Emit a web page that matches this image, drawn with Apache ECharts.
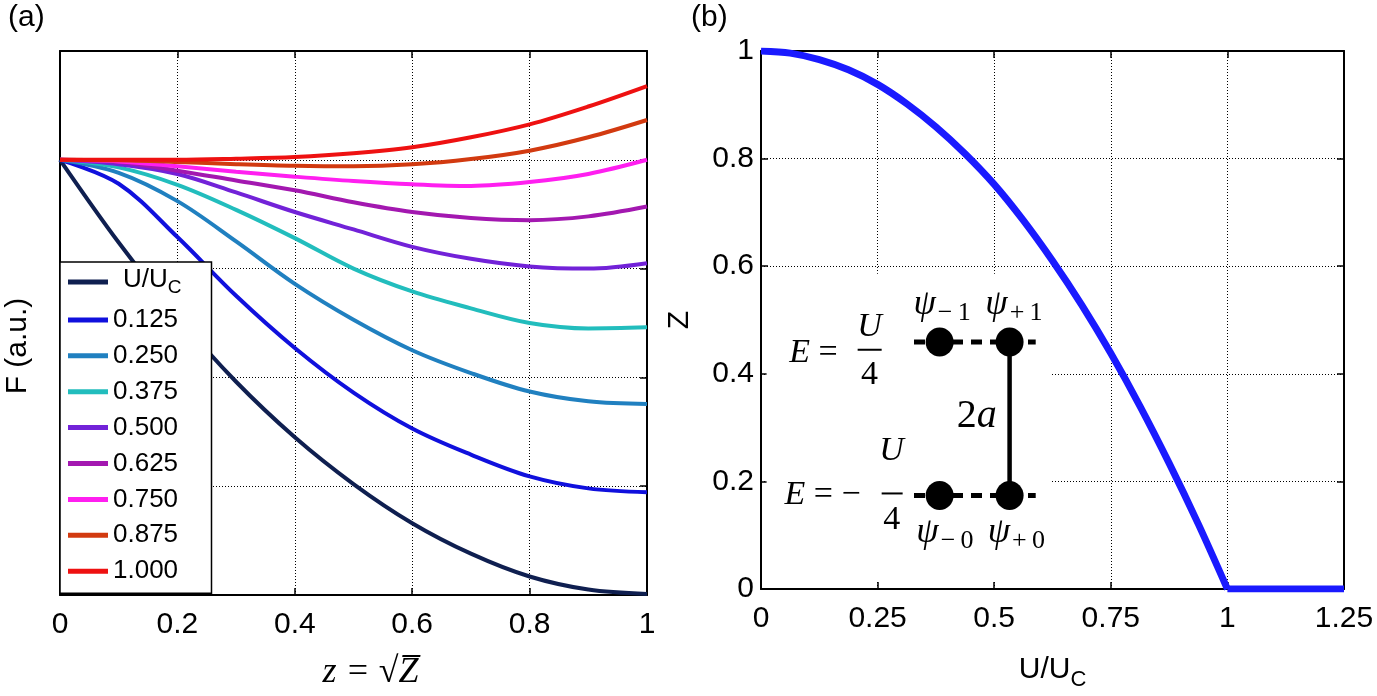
<!DOCTYPE html>
<html><head><meta charset="utf-8">
<script src="https://cdn.jsdelivr.net/npm/echarts@6/dist/echarts.min.js"></script>
<style>html,body{margin:0;padding:0;background:#fff;}#c{width:1377px;height:696px;}</style>
</head><body><div id="c"></div>
<script>
// ---------- Panel (a) data: F(z) for several U/Uc ----------
const zValues = [0, 0.1, 0.2, 0.3, 0.4, 0.5, 0.6, 0.7, 0.8, 0.9, 1.0];
const legendNames = ['U/Uc', '0.125', '0.250', '0.375', '0.500', '0.625', '0.750', '0.875', '1.000'];
const F_000 = [4.0, 3.24, 2.56, 1.96, 1.45, 1.02, 0.66, 0.38, 0.17, 0.05, 0.01];
const F_125 = [4.0, 3.78, 3.29, 2.75, 2.27, 1.86, 1.53, 1.29, 1.09, 0.98, 0.944];
const F_250 = [4.0, 3.88, 3.62, 3.25, 2.86, 2.53, 2.25, 2.04, 1.87, 1.78, 1.755];
const F_375 = [4.0, 3.93, 3.77, 3.54, 3.28, 3.00, 2.79, 2.635, 2.50, 2.45, 2.46];
const F_500 = [4.0, 3.96, 3.87, 3.70, 3.52, 3.36, 3.20, 3.09, 3.02, 3.00, 3.05];
const F_625 = [4.0, 3.98, 3.90, 3.81, 3.72, 3.61, 3.52, 3.465, 3.445, 3.48, 3.57];
const F_750 = [4.0, 3.985, 3.94, 3.89, 3.845, 3.805, 3.775, 3.76, 3.795, 3.87, 4.0];
const F_875 = [4.0, 3.995, 3.98, 3.96, 3.945, 3.94, 3.958, 4.007, 4.084, 4.207, 4.366];
const F_1000 = [4.0, 4.0, 4.0, 4.01, 4.026, 4.06, 4.115, 4.207, 4.326, 4.49, 4.678];
const curvesA = [F_000, F_125, F_250, F_375, F_500, F_625, F_750, F_875, F_1000];
const colorsA = ['#0f1f50', '#1010dd', '#2080c0', '#22bdbd', '#7222d8', '#a318b0', '#ff1ff0', '#d23a10', '#ee1111'];

// ---------- Panel (b) data: Z vs U/Uc ----------
const uValues = [0, 0.0625, 0.125, 0.1875, 0.25, 0.3125, 0.375, 0.4375, 0.5, 0.5625, 0.625, 0.6875, 0.75, 0.8125, 0.875, 0.9375, 1.0];
const ZValues = [1.0, 0.996, 0.984, 0.965, 0.938, 0.902, 0.859, 0.809, 0.752, 0.685, 0.61, 0.528, 0.438, 0.34, 0.234, 0.121, 0.0];
const uFlat = [1.0, 1.25];
const ZFlat = [0.0, 0.0];

// ---------- Inset level diagram (data coords of panel b) ----------
const dotU = [0.383, 0.533];
const levelZ = [0.459, 0.174];
const levelSpanU = [0.328, 0.589];

const SANS = 'Liberation Sans, Arial, Helvetica, sans-serif';
const SERIF = 'Liberation Serif, Times New Roman, serif';

const axLine = {show: true, onZero: false, lineStyle: {color: '#000', width: 2}};
const axTick = {show: true, inside: true, length: 7, lineStyle: {color: '#000', width: 1.5}};
const gridLine = {show: true, lineStyle: {color: '#000', width: 1, type: [1, 2]}};
const lab = {color: '#000', fontSize: 30, fontFamily: SANS};

function frameAxis(gi, pos, min, max, interval) {
  return {type: 'value', gridIndex: gi, position: pos, min: min, max: max, interval: interval,
    axisLine: axLine, axisTick: axTick, axisLabel: {show: false}, splitLine: {show: false}};
}

const seriesA = curvesA.map((arr, i) => ({
  name: legendNames[i], type: 'line', xAxisIndex: 0, yAxisIndex: 0,
  data: zValues.map((z, k) => [z, arr[k]]),
  showSymbol: false, symbol: 'none', smooth: 0.35,
  lineStyle: {color: colorsA[i], width: 4}, itemStyle: {color: colorsA[i]}
}));

const seriesB = [
  {name: 'Zcurve', type: 'line', xAxisIndex: 2, yAxisIndex: 2,
   data: uValues.map((u, k) => [u, ZValues[k]]), symbol: 'none', smooth: 0.3,
   lineStyle: {color: '#1a1aff', width: 7}},
  {name: 'Zflat', type: 'line', xAxisIndex: 2, yAxisIndex: 2,
   data: uFlat.map((u, k) => [u, ZFlat[k]]), symbol: 'none',
   lineStyle: {color: '#1a1aff', width: 7}},
  {name: 'levelUp', type: 'line', xAxisIndex: 2, yAxisIndex: 2, z: 3,
   data: levelSpanU.map(u => [u, levelZ[0]]), symbol: 'none',
   lineStyle: {color: '#000', width: 5, type: [11, 8]},
   markArea: {silent: true, itemStyle: {color: '#fff', opacity: 1},
     data: [[{coord: [0.012, 0.014]}, {coord: [0.621, 0.586]}]]}},
  {name: 'levelDown', type: 'line', xAxisIndex: 2, yAxisIndex: 2, z: 3,
   data: levelSpanU.map(u => [u, levelZ[1]]), symbol: 'none',
   lineStyle: {color: '#000', width: 5, type: [11, 8]}},
  {name: 'coupling', type: 'line', xAxisIndex: 2, yAxisIndex: 2, z: 3,
   data: levelZ.map(Z => [dotU[1], Z]), symbol: 'none',
   lineStyle: {color: '#000', width: 4.5}},
  {name: 'dots', type: 'scatter', xAxisIndex: 2, yAxisIndex: 2, z: 4,
   data: [[dotU[0], levelZ[0]], [dotU[1], levelZ[0]], [dotU[0], levelZ[1]], [dotU[1], levelZ[1]]],
   symbol: 'circle', symbolSize: [28, 29], itemStyle: {color: '#000', opacity: 1}}
];

const option = {
  animation: false,
  backgroundColor: '#fff',
  grid: [
    {left: 60, top: 51, width: 587, height: 544},
    {left: 761, top: 51, width: 583, height: 540}
  ],
  xAxis: [
    {type: 'value', gridIndex: 0, position: 'bottom', min: 0, max: 1, interval: 0.2,
     axisLine: axLine, axisTick: axTick, splitLine: gridLine,
     axisLabel: Object.assign({margin: 15}, lab),
     name: 'z = √Z̅', nameLocation: 'middle', nameGap: 60,
     nameTextStyle: {fontSize: 36, fontFamily: SERIF, fontStyle: 'italic', color: '#000', padding: [0, 0, 0, 34]}},
    frameAxis(0, 'top', 0, 1, 0.2),
    {type: 'value', gridIndex: 1, position: 'bottom', min: 0, max: 1.25, interval: 0.25,
     axisLine: axLine, axisTick: axTick, splitLine: gridLine,
     axisLabel: Object.assign({margin: 15}, lab),
     name: '{m|U/U}{s|C}', nameLocation: 'middle', nameGap: 66,
     nameTextStyle: {fontSize: 30, fontFamily: SANS, color: '#000',
       rich: {m: {fontSize: 30, fontFamily: SANS, color: '#000', verticalAlign: 'top', lineHeight: 36},
              s: {fontSize: 22, fontFamily: SANS, color: '#000', verticalAlign: 'bottom'}}}},
    frameAxis(1, 'top', 0, 1.25, 0.25)
  ],
  yAxis: [
    {type: 'value', gridIndex: 0, position: 'left', min: 0, max: 5, interval: 1,
     axisLine: axLine, axisTick: axTick, splitLine: gridLine, axisLabel: {show: false},
     name: 'F (a.u.)', nameLocation: 'middle', nameGap: 27,
     nameTextStyle: {fontSize: 30, fontFamily: SANS, color: '#000', padding: [0, 46, 0, 0]}},
    frameAxis(0, 'right', 0, 5, 1),
    {type: 'value', gridIndex: 1, position: 'left', min: 0, max: 1, interval: 0.2,
     axisLine: axLine, axisTick: axTick, splitLine: gridLine,
     axisLabel: Object.assign({margin: 7}, lab),
     name: 'Z', nameLocation: 'middle', nameGap: 66,
     nameTextStyle: {fontSize: 30, fontFamily: SANS, color: '#000'}},
    frameAxis(1, 'right', 0, 1, 0.2)
  ],
  legend: {
    data: legendNames, orient: 'vertical', left: 60, top: 262,
    icon: 'rect', itemWidth: 40, itemHeight: 5, itemGap: 9.9,
    backgroundColor: '#fff', borderColor: '#000', borderWidth: 1.5, borderRadius: 0,
    padding: [5, 30, 9, 8], selectedMode: false,
    textStyle: {fontSize: 26, fontFamily: SANS, color: '#000',
      rich: {h: {fontSize: 26, fontFamily: SANS, color: '#000', lineHeight: 30, verticalAlign: 'top', padding: [0, 0, 0, 10]},
             s: {fontSize: 19, fontFamily: SANS, color: '#000', verticalAlign: 'bottom'}}},
    formatter: name => name === 'U/Uc' ? '{h|U/U}{s|C}' : name
  },
  series: seriesA.concat(seriesB)
};

const chart = echarts.init(document.getElementById('c'));
chart.setOption(option);

// ---------- Inset text annotations (placed through panel (b) scales) ----------
function P(u, Z) { return chart.convertToPixel({xAxisIndex: 2, yAxisIndex: 2}, [u, Z]); }
const mathRich = {
  i: {fontFamily: SERIF, fontStyle: 'italic', fontSize: 34, fill: '#000', color: '#000'},
  r: {fontFamily: SERIF, fontSize: 34, fill: '#000', color: '#000'},
  p: {fontFamily: SERIF, fontStyle: 'italic', fontSize: 36, fill: '#000', color: '#000', lineHeight: 40, verticalAlign: 'top'},
  s: {fontFamily: SERIF, fontSize: 26, fill: '#000', color: '#000', verticalAlign: 'bottom', padding: [0, 0, 0, 2]}
};
const insetTexts = [
  {t: '{i|E}{r| = }', u: 0.1825, Z: 0.439, align: 'right'},
  {t: '{i|U}', u: 0.2329, Z: 0.487, align: 'center'},
  {t: '{r|4}', u: 0.2329, Z: 0.398, align: 'center'},
  {t: '{i|E}{r| = −}', u: 0.2136, Z: 0.174, align: 'right'},
  {t: '{i|U}', u: 0.2801, Z: 0.257, align: 'center'},
  {t: '{r|4}', u: 0.2801, Z: 0.128, align: 'center'},
  {t: '{p|ψ}{s|−\u20091}', u: 0.327, Z: 0.525, align: 'left'},
  {t: '{p|ψ}{s|+\u20091}', u: 0.481, Z: 0.525, align: 'left'},
  {t: '{p|ψ}{s|−\u20090}', u: 0.333, Z: 0.102, align: 'left'},
  {t: '{p|ψ}{s|+\u20090}', u: 0.486, Z: 0.102, align: 'left'}
];
const fracBars = [
  {u1: 0.2072, u2: 0.2587, Z: 0.4447},
  {u1: 0.2587, u2: 0.3037, Z: 0.1776}
];
const graphics = [];
insetTexts.forEach(o => {
  const p = P(o.u, o.Z);
  graphics.push({type: 'text', x: p[0], y: p[1], z: 100,
    style: {text: o.t, rich: mathRich, align: o.align, verticalAlign: 'middle', fill: '#000'}});
});
fracBars.forEach(b => {
  const a = P(b.u1, b.Z), c = P(b.u2, b.Z);
  graphics.push({type: 'line', z: 100, shape: {x1: a[0], y1: a[1], x2: c[0], y2: c[1]},
    style: {stroke: '#000', lineWidth: 2}});
});
const pa = P(0.4624, 0.3204);
graphics.push({type: 'text', x: pa[0], y: pa[1], z: 100,
  style: {text: '{r|2}{i|a}', rich: {r: {fontFamily: SERIF, fontSize: 40, fill: '#000'}, i: {fontFamily: SERIF, fontStyle: 'italic', fontSize: 40, fill: '#000'}},
    align: 'center', verticalAlign: 'middle', fill: '#000'}});
graphics.push({type: 'text', left: 8, top: 3, z: 100, style: {text: '(a)', fontSize: 30, fontFamily: SANS, fill: '#000'}});
graphics.push({type: 'text', left: 691, top: 3, z: 100, style: {text: '(b)', fontSize: 30, fontFamily: SANS, fill: '#000'}});
chart.setOption({graphic: graphics});
</script>
</body></html>
